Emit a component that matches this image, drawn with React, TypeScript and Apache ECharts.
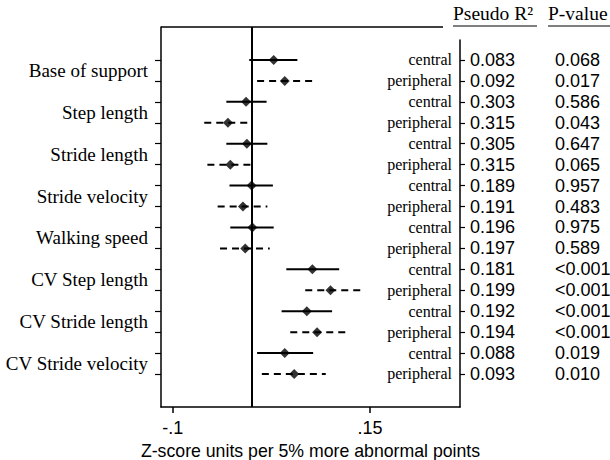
import React, { useEffect, useRef } from "react";
import * as echarts from "echarts";

const groups = [
  "Base of support",
  "Step length",
  "Stride length",
  "Stride velocity",
  "Walking speed",
  "CV Step length",
  "CV Stride length",
  "CV Stride velocity",
];
const types = ["central", "peripheral"];
const estimates = [0.028, 0.042, -0.007, -0.030, -0.006, -0.027, 0.000, -0.011, 0.001, -0.008, 0.077, 0.100, 0.070, 0.083, 0.042, 0.054];
const lower = [-0.003, 0.007, -0.032, -0.060, -0.032, -0.056, -0.028, -0.043, -0.027, -0.040, 0.044, 0.068, 0.038, 0.049, 0.007, 0.013];
const upper = [0.058, 0.077, 0.019, -0.001, 0.020, 0.001, 0.027, 0.020, 0.028, 0.023, 0.111, 0.139, 0.102, 0.120, 0.078, 0.094];
const pseudoR2 = ["0.083", "0.092", "0.303", "0.315", "0.305", "0.315", "0.189", "0.191", "0.196", "0.197", "0.181", "0.199", "0.192", "0.194", "0.088", "0.093"];
const pValues = ["0.068", "0.017", "0.586", "0.043", "0.647", "0.065", "0.957", "0.483", "0.975", "0.589", "<0.001", "<0.001", "<0.001", "<0.001", "0.019", "0.010"];
const xTicks = [-0.1, 0.15];
const xTickLabels = ["-.1", ".15"];
const xTitle = "Z-score units per 5% more abnormal points";
const headerR2 = "Pseudo R²";
const headerP = "P-value";

const SERIF = "'Liberation Serif', 'Times New Roman', serif";
const SANS = "'Liberation Sans', Arial, sans-serif";

export default function App() {
  const ref = useRef<HTMLDivElement>(null);
  useEffect(() => {
    if (!ref.current) return;
    const chart = echarts.init(ref.current, null, { renderer: "svg" });
    const rows = estimates.map((_, i) => i + 1);
    const mids = groups.map((_, g) => g * 2 + 1.5);
    const rowIndex = (v: number) => Math.round(v) - 1;

    const option: any = {
      animation: false,
      backgroundColor: "#fff",
      grid: [
        { left: 161, right: 150, top: 27, bottom: 53, containLabel: false, outerBoundsMode: "none" },
        { left: 460, right: 0, top: 40, bottom: 53, containLabel: false, outerBoundsMode: "none" },
      ],
      xAxis: [
        {
          gridIndex: 0,
          type: "value",
          min: -0.1148,
          max: 0.2641,
          position: "bottom",
          splitLine: { show: false },
          axisLine: { show: true, onZero: false, lineStyle: { color: "#000", width: 1.5 } },
          axisTick: { show: true, customValues: xTicks, length: 6, lineStyle: { color: "#000", width: 1.5 } },
          axisLabel: {
            customValues: xTicks,
            formatter: (v: number) => {
              const k = xTicks.findIndex((t) => Math.abs(t - v) < 1e-9);
              return k >= 0 ? xTickLabels[k] : "";
            },
            fontFamily: SANS,
            fontSize: 18,
            color: "#000",
            margin: 12,
          },
          name: xTitle,
          nameLocation: "middle",
          nameGap: 35,
          nameTextStyle: { fontFamily: SANS, fontSize: 17.7, color: "#000" },
        },
        { gridIndex: 1, type: "value", min: 0, max: 1, show: false, axisLine: { onZero: false } },
      ],
      yAxis: [
        {
          gridIndex: 0,
          type: "value",
          inverse: true,
          min: -0.5765,
          max: 17.5765,
          position: "left",
          splitLine: { show: false },
          axisLine: { show: true, onZero: false, lineStyle: { color: "#000", width: 1.5 } },
          axisTick: { show: true, customValues: rows, length: 6, lineStyle: { color: "#000", width: 1.2 } },
          axisLabel: {
            customValues: mids,
            formatter: (v: number) => groups[Math.round((v - 1.5) / 2)] ?? "",
            fontFamily: SERIF,
            fontSize: 19,
            color: "#000",
            margin: 13,
          },
        },
        {
          gridIndex: 1,
          type: "value",
          inverse: true,
          min: 0.0446,
          max: 17.5765,
          position: "left",
          offset: 0,
          splitLine: { show: false },
          axisLine: { show: true, onZero: false, lineStyle: { color: "#000", width: 1.5 } },
          axisTick: { show: true, inside: true, customValues: rows, length: 5, lineStyle: { color: "#000", width: 1.2 } },
          axisLabel: {
            customValues: rows,
            formatter: (v: number) => types[rowIndex(v) % 2],
            fontFamily: SERIF,
            fontSize: 16,
            color: "#000",
            margin: 8,
          },
        },
        {
          gridIndex: 1,
          type: "value",
          inverse: true,
          min: 0.0446,
          max: 17.5765,
          position: "left",
          offset: 0,
          splitLine: { show: false },
          axisLine: { show: false, onZero: false },
          axisTick: { show: false },
          axisLabel: {
            inside: true,
            customValues: rows,
            formatter: (v: number) => pseudoR2[rowIndex(v)] ?? "",
            fontFamily: SANS,
            fontSize: 18,
            color: "#000",
            margin: 10,
          },
        },
        {
          gridIndex: 1,
          type: "value",
          inverse: true,
          min: 0.0446,
          max: 17.5765,
          position: "right",
          offset: 0,
          splitLine: { show: false },
          axisLine: { show: false, onZero: false },
          axisTick: { show: false },
          axisLabel: {
            inside: true,
            align: "left",
            customValues: rows,
            formatter: (v: number) => pValues[rowIndex(v)] ?? "",
            fontFamily: SANS,
            fontSize: 18,
            color: "#000",
            margin: 55,
          },
        },
      ],
      graphic: [
        { type: "line", shape: { x1: 161, y1: 27, x2: 443, y2: 27 }, style: { stroke: "#000", lineWidth: 1.5 } },
        {
          type: "text",
          left: 453,
          top: 3,
          style: { text: headerR2, font: `19.5px ${SERIF}`, fill: "#000" },
        },
        {
          type: "text",
          left: 548,
          top: 3,
          style: { text: headerP, font: `19.5px ${SERIF}`, fill: "#000" },
        },
        { type: "line", shape: { x1: 453, y1: 26, x2: 537, y2: 26 }, style: { stroke: "#000", lineWidth: 1.2 } },
        { type: "line", shape: { x1: 548, y1: 26, x2: 610, y2: 26 }, style: { stroke: "#000", lineWidth: 1.2 } },
      ],
      series: [
        {
          type: "custom",
          xAxisIndex: 0,
          yAxisIndex: 0,
          data: rows.map((r, i) => [lower[i], upper[i], r, i % 2]),
          encode: { x: [0, 1], y: 2 },
          renderItem: (params: any, api: any) => {
            const s = api.coord([api.value(0), api.value(2)]);
            const e = api.coord([api.value(1), api.value(2)]);
            const dashed = api.value(3) === 1;
            return {
              type: "line",
              shape: { x1: s[0], y1: s[1], x2: e[0], y2: e[1] },
              style: { stroke: "#000", lineWidth: 2, lineDash: dashed ? [7, 5] : null },
            };
          },
          silent: true,
        },
        {
          type: "scatter",
          xAxisIndex: 0,
          yAxisIndex: 0,
          symbol: "diamond",
          symbolSize: 10,
          itemStyle: { color: "#000" },
          data: rows.map((r, i) => [estimates[i], r]),
          markLine: {
            silent: true,
            symbol: "none",
            label: { show: false },
            lineStyle: { color: "#000", width: 2, type: "solid" },
            data: [{ xAxis: 0 }],
          },
          z: 5,
        },
      ],
    };
    chart.setOption(option);
    return () => chart.dispose();
  }, []);
  return (
    <div
      ref={ref}
      style={{ position: "fixed", left: 0, top: 0, width: 610, height: 460, background: "#fff" }}
    />
  );
}
